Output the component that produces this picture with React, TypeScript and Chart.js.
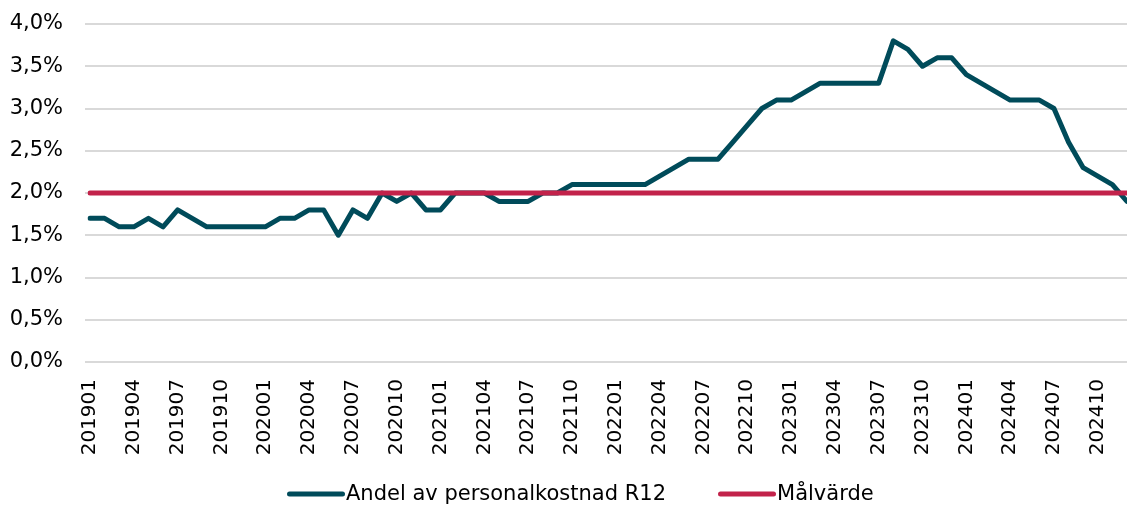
import { useEffect, useRef } from 'react';
import { Chart, registerables } from 'chart.js';

Chart.register(...registerables);

const months = [
  '201901', '201902', '201903', '201904', '201905', '201906', '201907', '201908', '201909', '201910', '201911', '201912',
  '202001', '202002', '202003', '202004', '202005', '202006', '202007', '202008', '202009', '202010', '202011', '202012',
  '202101', '202102', '202103', '202104', '202105', '202106', '202107', '202108', '202109', '202110', '202111', '202112',
  '202201', '202202', '202203', '202204', '202205', '202206', '202207', '202208', '202209', '202210', '202211', '202212',
  '202301', '202302', '202303', '202304', '202305', '202306', '202307', '202308', '202309', '202310', '202311', '202312',
  '202401', '202402', '202403', '202404', '202405', '202406', '202407', '202408', '202409', '202410', '202411', '202412',
];

const andelR12 = [
  1.7, 1.7, 1.6, 1.6, 1.7, 1.6, 1.8, 1.7, 1.6, 1.6, 1.6, 1.6,
  1.6, 1.7, 1.7, 1.8, 1.8, 1.5, 1.8, 1.7, 2.0, 1.9, 2.0, 1.8,
  1.8, 2.0, 2.0, 2.0, 1.9, 1.9, 1.9, 2.0, 2.0, 2.1, 2.1, 2.1,
  2.1, 2.1, 2.1, 2.2, 2.3, 2.4, 2.4, 2.4, 2.6, 2.8, 3.0, 3.1,
  3.1, 3.2, 3.3, 3.3, 3.3, 3.3, 3.3, 3.8, 3.7, 3.5, 3.6, 3.6,
  3.4, 3.3, 3.2, 3.1, 3.1, 3.1, 3.0, 2.6, 2.3, 2.2, 2.1, 1.9,
];

const malvarde = [
  2.0, 2.0, 2.0, 2.0, 2.0, 2.0, 2.0, 2.0, 2.0, 2.0, 2.0, 2.0,
  2.0, 2.0, 2.0, 2.0, 2.0, 2.0, 2.0, 2.0, 2.0, 2.0, 2.0, 2.0,
  2.0, 2.0, 2.0, 2.0, 2.0, 2.0, 2.0, 2.0, 2.0, 2.0, 2.0, 2.0,
  2.0, 2.0, 2.0, 2.0, 2.0, 2.0, 2.0, 2.0, 2.0, 2.0, 2.0, 2.0,
  2.0, 2.0, 2.0, 2.0, 2.0, 2.0, 2.0, 2.0, 2.0, 2.0, 2.0, 2.0,
  2.0, 2.0, 2.0, 2.0, 2.0, 2.0, 2.0, 2.0, 2.0, 2.0, 2.0, 2.0,
];

const xTickLabels = [
  '201901', '201904', '201907', '201910', '202001', '202004', '202007', '202010',
  '202101', '202104', '202107', '202110', '202201', '202204', '202207', '202210',
  '202301', '202304', '202307', '202310', '202401', '202404', '202407', '202410',
];

const seriesNames = ['Andel av personalkostnad R12', 'Målvärde'];

const W = 1127;
const H = 507;
const FONT = '"DejaVu Sans", "Liberation Sans", Arial, sans-serif';

export default function App() {
  const ref = useRef<HTMLCanvasElement | null>(null);

  useEffect(() => {
    if (!ref.current) return;

    const legendPlugin = {
      id: 'customLegend',
      afterDraw(chart: any) {
        const ctx = chart.ctx as CanvasRenderingContext2D;
        ctx.save();
        ctx.font = `21px ${FONT}`;
        ctx.textBaseline = 'middle';
        ctx.textAlign = 'left';
        let x = 287;
        const y = 494;
        chart.data.datasets.forEach((ds: any) => {
          ctx.strokeStyle = ds.borderColor;
          ctx.lineWidth = 5;
          ctx.lineCap = 'round';
          ctx.beginPath();
          ctx.moveTo(x + 2.5, y);
          ctx.lineTo(x + 55.5, y);
          ctx.stroke();
          ctx.fillStyle = '#000000';
          ctx.fillText(ds.label, x + 59, y + 1);
          x += 59 + ctx.measureText(ds.label).width + 52;
        });
        ctx.restore();
      },
    };

    const chart = new Chart(ref.current, {
      type: 'line',
      data: {
        labels: months,
        datasets: [
          {
            label: seriesNames[0],
            data: andelR12,
            borderColor: '#004B5A',
            backgroundColor: '#004B5A',
            borderWidth: 5,
            pointRadius: 0,
            tension: 0,
            borderJoinStyle: 'round',
            borderCapStyle: 'round',
            order: 1,
          },
          {
            label: seriesNames[1],
            data: malvarde,
            borderColor: '#C2224A',
            backgroundColor: '#C2224A',
            borderWidth: 5,
            pointRadius: 0,
            tension: 0,
            borderCapStyle: 'round',
            order: 0,
          },
        ],
      },
      options: {
        responsive: false,
        animation: false,
        devicePixelRatio: 1,
        layout: { padding: { top: 24, left: 0, right: 0, bottom: 0 } },
        plugins: {
          legend: { display: false },
          tooltip: { enabled: false },
        },
        scales: {
          x: {
            type: 'category',
            offset: false,
            grid: { display: false, drawTicks: false },
            border: { display: false },
            ticks: {
              autoSkip: false,
              maxRotation: 90,
              minRotation: 90,
              padding: 17,
              color: '#000000',
              font: { family: FONT, size: 20 },
              callback: function (this: any, _v: any, index: number) {
                const lab = months[index];
                return xTickLabels.includes(lab) ? lab : '';
              },
            },
            afterFit(scale: any) {
              scale.height = H - 362;
              scale.paddingRight = 0;
              scale.paddingLeft = 0;
            },
          },
          y: {
            min: 0,
            max: 4,
            grid: { color: '#D9D9D9', lineWidth: 2, drawTicks: true, tickLength: 5, tickColor: '#D9D9D9' },
            border: { display: false },
            ticks: {
              stepSize: 0.5,
              padding: 22,
              color: '#000000',
              font: { family: FONT, size: 21 },
              callback: (v: any) => Number(v).toFixed(1).replace('.', ',') + '%',
            },
            afterFit(scale: any) {
              scale.width = 90;
              scale.paddingTop = 0;
              scale.paddingBottom = 0;
            },
          },
        },
      },
      plugins: [legendPlugin],
    } as any);

    return () => chart.destroy();
  }, []);

  return (
    <div style={{ position: 'absolute', left: 0, top: 0, width: W, height: H }}>
      <canvas ref={ref} width={W} height={H} style={{ display: 'block', width: W, height: H }} />
    </div>
  );
}
